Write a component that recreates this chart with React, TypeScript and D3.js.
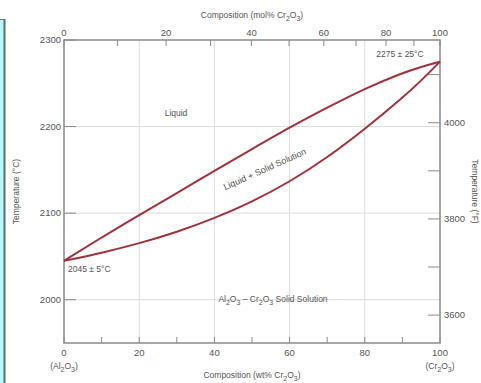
import React from "react";
import * as d3 from "d3";

// wt% Cr2O3 and temperatures (°C)
const compWt = [0, 10, 20, 30, 40, 50, 60, 70, 80, 90, 95, 100];
const liquidusT = [2045, 2072, 2098, 2123, 2149, 2174, 2199, 2222, 2244, 2262, 2269, 2275];
const solidusT = [2045, 2054, 2065, 2078, 2094, 2113, 2136, 2164, 2197, 2233, 2253, 2275];

const wtTicks = [0, 10, 20, 30, 40, 50, 60, 70, 80, 90, 100];
const wtLabels = [0, 20, 40, 60, 80, 100];
const molTicks = [0, 10, 20, 30, 40, 50, 60, 70, 80, 90, 100];
const molLabels = [0, 20, 40, 60, 80, 100];
const cTicks = [2000, 2100, 2200, 2300];
const cLabels = [2000, 2100, 2200, 2300];
const fTicks = [3600, 3700, 3800, 3900, 4000, 4100];
const fLabels = [3600, 3800, 4000];

const M_AL = 101.96,
  M_CR = 151.99;
const molToWt = (m: number) => {
  const x = m / 100;
  return (100 * x * M_CR) / (x * M_CR + (1 - x) * M_AL);
};
const fToC = (f: number) => ((f - 32) * 5) / 9;

const Sub = ({ children }: { children: string }) => (
  <tspan fontSize="7" dy="2.5">
    {children}
  </tspan>
);

const App = () => {
  const width = 481,
    height = 383;
  const x = d3.scaleLinear().domain([0, 100]).range([64, 440]);
  const y = d3.scaleLinear().domain([1950, 2300]).range([343, 40]);

  const line = d3
    .line<number>()
    .x((d, i) => x(compWt[i]))
    .y((d) => y(d))
    .curve(d3.curveBasis);

  const txt = "#555";
  const axis = "#8a8a8a";
  const grid = "#dcdcdc";
  const red = "#a3313b";
  const font = "'Liberation Sans', Arial, sans-serif";

  return (
    <svg
      width={width}
      height={height}
      style={{ position: "absolute", left: 0, top: 0, background: "#fff" }}
      fontFamily={font}
    >
      {/* cyan strip on the left */}
      <rect x={0} y={19} width={4} height={height - 19} fill="#b8f6f8" />
      <line x1={0} x2={5} y1={19.5} y2={19.5} stroke="#6a7a7a" strokeWidth={1} />
      <line x1={4.5} x2={4.5} y1={19} y2={height} stroke="#5f6b6b" strokeWidth={2} />

      {/* grid */}
      {wtLabels
        .filter((v) => v > 0 && v < 100)
        .map((v) => (
          <line key={"gx" + v} x1={x(v)} x2={x(v)} y1={y(2300)} y2={y(1950)} stroke={grid} strokeWidth={1} />
        ))}
      {cLabels
        .filter((v) => v < 2300)
        .map((v) => (
          <line key={"gy" + v} x1={x(0)} x2={x(100)} y1={y(v)} y2={y(v)} stroke={grid} strokeWidth={1} />
        ))}

      {/* frame */}
      <rect x={x(0)} y={y(2300)} width={x(100) - x(0)} height={y(1950) - y(2300)} fill="none" stroke={axis} strokeWidth={1.5} />

      {/* bottom ticks */}
      {wtTicks.map((v) => (
        <line key={"bt" + v} x1={x(v)} x2={x(v)} y1={y(1950)} y2={y(1950) - 6} stroke={axis} strokeWidth={1} />
      ))}
      {wtLabels.map((v) => (
        <text key={"bl" + v} x={x(v)} y={356} fontSize={9.5} fill={txt} textAnchor="middle">
          {v}
        </text>
      ))}
      <text x={x(0)} y={369} fontSize={8.5} fill={txt} textAnchor="middle">
        (Al<Sub>2</Sub>
        <tspan dy="-2.5">O</tspan>
        <Sub>3</Sub>
        <tspan dy="-2.5">)</tspan>
      </text>
      <text x={x(100)} y={369} fontSize={8.5} fill={txt} textAnchor="middle">
        (Cr<Sub>2</Sub>
        <tspan dy="-2.5">O</tspan>
        <Sub>3</Sub>
        <tspan dy="-2.5">)</tspan>
      </text>
      <text x={252} y={378} fontSize={8.5} fill={txt} textAnchor="middle">
        Composition (wt% Cr<Sub>2</Sub>
        <tspan dy="-2.5">O</tspan>
        <Sub>3</Sub>
        <tspan dy="-2.5">)</tspan>
      </text>

      {/* top ticks (mol%) */}
      {molTicks.map((v) => (
        <line
          key={"tt" + v}
          x1={x(molToWt(v))}
          x2={x(molToWt(v))}
          y1={y(2300)}
          y2={y(2300) + 6}
          stroke={axis}
          strokeWidth={1}
        />
      ))}
      {molLabels.map((v) => (
        <text key={"tl" + v} x={x(molToWt(v))} y={36} fontSize={9.5} fill={txt} textAnchor="middle">
          {v}
        </text>
      ))}
      <text x={252} y={18} fontSize={8.5} fill={txt} textAnchor="middle">
        Composition (mol% Cr<Sub>2</Sub>
        <tspan dy="-2.5">O</tspan>
        <Sub>3</Sub>
        <tspan dy="-2.5">)</tspan>
      </text>

      {/* left ticks (°C) */}
      {cTicks.map((v) => (
        <line key={"lt" + v} x1={x(0)} x2={x(0) + 12} y1={y(v)} y2={y(v)} stroke={axis} strokeWidth={1} />
      ))}
      {cLabels.map((v) => (
        <text key={"ll" + v} x={x(0) - 3} y={y(v) + 3} fontSize={9.5} fill={txt} textAnchor="end">
          {v}
        </text>
      ))}
      <text
        transform={`translate(19,${(y(2300) + y(1950)) / 2}) rotate(-90)`}
        fontSize={8.5}
        fill={txt}
        textAnchor="middle"
      >
        Temperature (°C)
      </text>

      {/* right ticks (°F) */}
      {fTicks.map((v) => (
        <line
          key={"rt" + v}
          x1={x(100) - 12}
          x2={x(100)}
          y1={y(fToC(v))}
          y2={y(fToC(v))}
          stroke={axis}
          strokeWidth={1}
        />
      ))}
      {fLabels.map((v) => (
        <text key={"rl" + v} x={x(100) + 4} y={y(fToC(v)) + 3} fontSize={9.5} fill={txt} textAnchor="start">
          {v}
        </text>
      ))}
      <text
        transform={`translate(472,${(y(2300) + y(1950)) / 2}) rotate(90)`}
        fontSize={8.5}
        fill={txt}
        textAnchor="middle"
      >
        Temperature (°F)
      </text>

      {/* phase boundaries */}
      <path d={line(liquidusT) || ""} fill="none" stroke={red} strokeWidth={2} />
      <path d={line(solidusT) || ""} fill="none" stroke={red} strokeWidth={2} />

      {/* region labels */}
      <text x={176} y={116} fontSize={8.5} fill={txt} textAnchor="middle">
        Liquid
      </text>
      <text
        transform="translate(266,172) rotate(-24)"
        fontSize={9}
        fill={txt}
        textAnchor="middle"
      >
        Liquid + Solid Solution
      </text>
      <text x={400} y={57} fontSize={8.5} fill={txt} textAnchor="middle">
        2275 ± 25°C
      </text>
      <text x={68} y={272} fontSize={8.5} fill={txt} textAnchor="start">
        2045 ± 5°C
      </text>
      <text x={273} y={302} fontSize={8.5} fill={txt} textAnchor="middle">
        Al<Sub>2</Sub>
        <tspan dy="-2.5">O</tspan>
        <Sub>3</Sub>
        <tspan dy="-2.5"> – Cr</tspan>
        <Sub>2</Sub>
        <tspan dy="-2.5">O</tspan>
        <Sub>3</Sub>
        <tspan dy="-2.5"> Solid Solution</tspan>
      </text>
    </svg>
  );
};

export default App;
